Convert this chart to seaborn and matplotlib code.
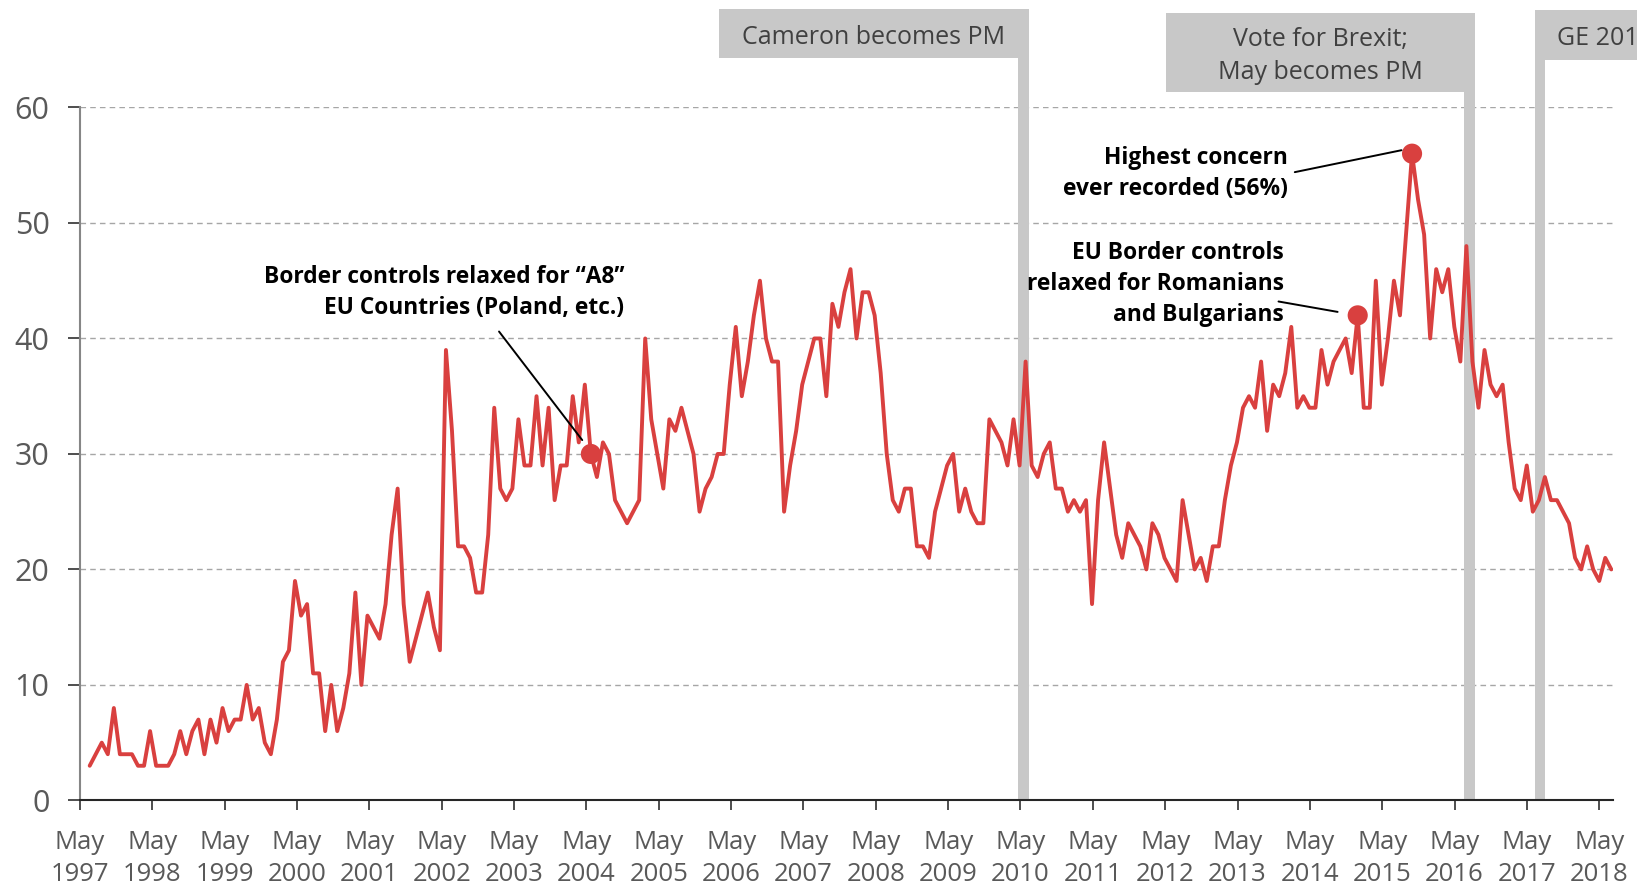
"""
Immigration as an important issue facing Britain, May 1997 - May 2018.
Monthly share of respondents (%), with key political events marked.
"""
import numpy as np
import pandas as pd
import matplotlib
matplotlib.use("Agg")
import matplotlib.pyplot as plt
from matplotlib.patches import Rectangle
import seaborn as sns

# Monthly values (%), first point is Jun/Jul 1997, last is May 2018
concern = [
    3, 4, 5, 4, 8, 4, 4, 4, 3, 3, 6, 3, 3, 3, 4, 6, 4, 6, 7, 4,
    7, 5, 8, 6, 7, 7, 10, 7, 8, 5, 4, 7, 12, 13, 19, 16, 17, 11, 11, 6,
    10, 6, 8, 11, 18, 10, 16, 15, 14, 17, 23, 27, 17, 12, 14, 16, 18, 15, 13, 39,
    32, 22, 22, 21, 18, 18, 23, 34, 27, 26, 27, 33, 29, 29, 35, 29, 34, 26, 29, 29,
    35, 31, 36, 30, 28, 31, 30, 26, 25, 24, 25, 26, 40, 33, 30, 27, 33, 32, 34, 32,
    30, 25, 27, 28, 30, 30, 36, 41, 35, 38, 42, 45, 40, 38, 38, 25, 29, 32, 36, 38,
    40, 40, 35, 43, 41, 44, 46, 40, 44, 44, 42, 37, 30, 26, 25, 27, 27, 22, 22, 21,
    25, 27, 29, 30, 25, 27, 25, 24, 24, 33, 32, 31, 29, 33, 29, 38, 29, 28, 30, 31,
    27, 27, 25, 26, 25, 26, 17, 26, 31, 27, 23, 21, 24, 23, 22, 20, 24, 23, 21, 20,
    19, 26, 23, 20, 21, 19, 22, 22, 26, 29, 31, 34, 35, 34, 38, 32, 36, 35, 37, 41,
    34, 35, 34, 34, 39, 36, 38, 39, 40, 37, 42, 34, 34, 45, 36, 40, 45, 42, 49, 56,
    52, 49, 40, 46, 44, 46, 41, 38, 48, 38, 34, 39, 36, 35, 36, 31, 27, 26, 29, 25,
    26, 28, 26, 26, 25, 24, 21, 20, 22, 20, 19, 21, 20,
]
first_month = 1.6          # months after May 1997
years = list(range(1997, 2019))

# highlighted points (index into concern) and their notes
note_idx = [83, 210, 219]
note_text = [
    "Border controls relaxed for \u201cA8\u201d\nEU Countries (Poland, etc.)",
    "EU Border controls\nrelaxed for Romanians\nand Bulgarians",
    "Highest concern\never recorded (56%)",
]

# political events: label, month of bar centre
event_label = ["Cameron becomes PM", "Vote for Brexit;\nMay becomes PM", "GE 2017"]
event_month = [156.5, 230.5, 242.2]

RED = "#D9403F"
BAR = "#C8C8C8"
GREY_TXT = "#595959"

df = pd.DataFrame({"month": first_month + np.arange(len(concern)) * 1.0016,
                   "concern": concern})

sns.set_theme(style="white")
plt.rcParams["font.family"] = ["Open Sans", "DejaVu Sans"]

fig = plt.figure(figsize=(16.37, 8.86), dpi=100)
ax = fig.add_axes([0.0489, 0.0966, 0.9365, 0.7821])

# event bars + label boxes (drawn outside the axes)
bar_w = 1.75
box_spec = [  # (left, right, bottom, top) in data units
    (106.0, 157.4, 64.3, 68.5),
    (180.1, 231.4, 61.3, 68.2),
    (241.3, 262.0, 64.1, 68.4),
]
for lab, m, (x0, x1, y0, y1) in zip(event_label, event_month, box_spec):
    ax.add_patch(Rectangle((m - bar_w / 2, 0), bar_w, y0, color=BAR,
                           zorder=1, clip_on=False, lw=0))
    ax.add_patch(Rectangle((x0, y0), x1 - x0, y1 - y0, color=BAR,
                           zorder=1, clip_on=False, lw=0))
    ymid = (y0 + y1) / 2 - 0.3
    if x1 > 255:
        ax.text(x0 + 3.7, ymid, lab, ha="left", va="center",
                fontsize=18, color="#404040", clip_on=False)
    else:
        ax.text((x0 + x1) / 2, ymid, lab, ha="center", va="center",
                fontsize=18, color="#404040", linespacing=1.38, clip_on=False)

sns.lineplot(data=df, x="month", y="concern", color=RED, lw=2.8, ax=ax,
             zorder=3)
pts = df.iloc[note_idx]
sns.scatterplot(data=pts, x="month", y="concern", color=RED, s=210, ax=ax,
                edgecolor="none", zorder=4)

# annotations: text position, connector start / end
note_xy = [(90.3, 44.0), (199.7, 44.7), (200.4, 54.3)]
line_from = [(69.5, 40.6), (198.8, 43.2), (201.5, 54.4)]
line_to = [(83.3, 31.2), (208.6, 42.3), (219.2, 56.3)]
for txt, (tx, ty), p0, p1 in zip(note_text, note_xy, line_from, line_to):
    ax.text(tx, ty, txt, ha="right", va="center", fontsize=16.4,
            fontweight="bold", color="black", linespacing=1.4, zorder=5)
    ax.plot([p0[0], p1[0]], [p0[1], p1[1]], color="black", lw=1.4, zorder=5)

ax.set_xlim(0, 254.3)
ax.set_ylim(0, 60)
ax.set_xticks([12 * i for i in range(len(years))])
ax.set_xticklabels([f"May\n{y}" for y in years])
ax.set_yticks(range(0, 61, 10))
ax.set_xlabel("")
ax.set_ylabel("")

ax.yaxis.grid(True, ls=(0, (4, 3)), color="#A6A6A6", lw=1.0)
ax.set_axisbelow(True)
for s in ["top", "right"]:
    ax.spines[s].set_visible(False)
ax.spines["left"].set_color("#868686")
ax.spines["left"].set_linewidth(1.5)
ax.spines["bottom"].set_color("#262626")
ax.spines["bottom"].set_linewidth(1.5)

ax.tick_params(axis="x", bottom=True, length=7, width=1.3, color="#404040",
               labelsize=18.5, labelcolor=GREY_TXT, pad=14)
ax.tick_params(axis="y", left=True, length=9, width=1.3, color="#404040",
               labelsize=22, labelcolor=GREY_TXT, pad=13)
for t in ax.get_xticklabels():
    t.set_linespacing(1.4)

fig.savefig("out.png", dpi=100)
